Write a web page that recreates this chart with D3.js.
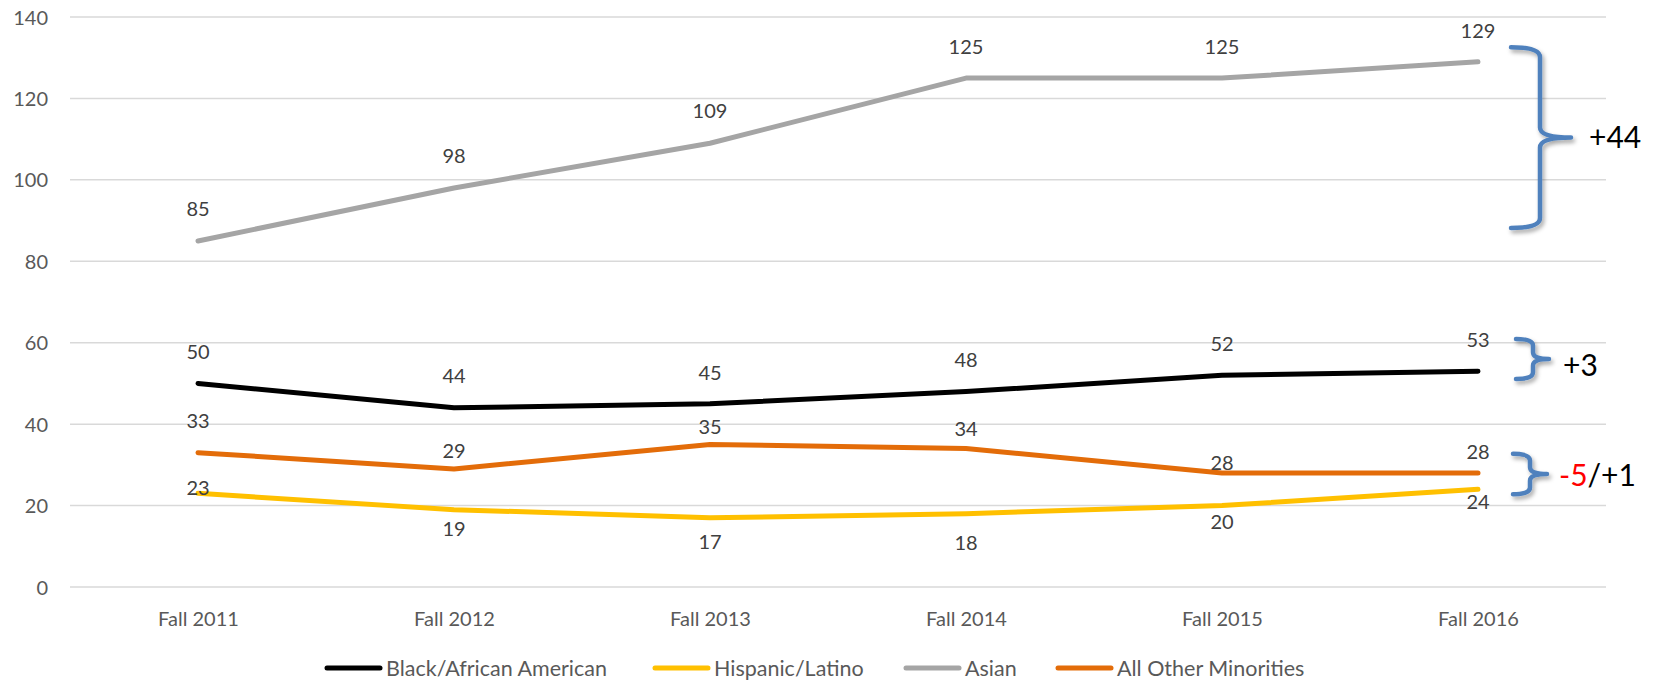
<!DOCTYPE html>
<html>
<head>
<meta charset="utf-8">
<script src="https://cdn.jsdelivr.net/npm/d3@7"></script>
<style>
  html, body { margin: 0; padding: 0; background: #fff; }
  svg { display: block; font-family: Lato, "Open Sans", sans-serif; }
</style>
</head>
<body>
<svg id="chart" width="1659" height="682"></svg>
<script>
// ---- data ----
const categories = ["Fall 2011", "Fall 2012", "Fall 2013", "Fall 2014", "Fall 2015", "Fall 2016"];
const black    = [50, 44, 45, 48, 52, 53];
const hispanic = [23, 19, 17, 18, 20, 24];
const asian    = [85, 98, 109, 125, 125, 129];
const other    = [33, 29, 35, 34, 28, 28];
const seriesNames = ["Black/African American", "Hispanic/Latino", "Asian", "All Other Minorities"];
const yTicks = [0, 20, 40, 60, 80, 100, 120, 140];
const changeLabels = ["+44", "+3", "/+1"];

// ---- layout / style ----
const W = 1659, H = 682;
const plot = { left: 70, right: 1606, top: 17, bottom: 587 };
const colors = ["#000000", "#FFC000", "#A5A5A5", "#E36C09"];
const seriesData = [black, hispanic, asian, other];
// label vertical offsets (px, relative to point) as placed in the original
const labelDy = [
  [-31, -32, -31, -32, -31, -31],
  [-5, 19, 24, 29, 16, 13],
  [-32, -32, -32, -31, -31, -31],
  [-32, -18, -18, -20, -10, -21]
];

const svg = d3.select("#chart");
const x = d3.scalePoint().domain(categories).range([plot.left, plot.right]).padding(0.5);
const y = d3.scaleLinear().domain([0, 140]).range([plot.bottom, plot.top]);

// gridlines
svg.append("g").selectAll("line").data(yTicks).join("line")
  .attr("x1", plot.left).attr("x2", plot.right)
  .attr("y1", d => y(d)).attr("y2", d => y(d))
  .attr("stroke", "#d9d9d9").attr("stroke-width", 1.5);

// y axis labels
const yAxis = d3.axisLeft(y).tickValues(yTicks).tickSize(0).tickPadding(0);
const yg = svg.append("g").attr("transform", `translate(${plot.left - 22},0)`).call(yAxis);
yg.select(".domain").remove();
yg.selectAll("text").attr("font-size", 20).attr("fill", "#595959")
  .attr("font-family", "Lato, sans-serif").attr("dy", "0.35em");

// x axis labels
const xAxis = d3.axisBottom(x).tickSize(0).tickPadding(0);
const xg = svg.append("g").attr("transform", `translate(0,${plot.bottom + 32})`).call(xAxis);
xg.select(".domain").remove();
xg.selectAll("text").attr("font-size", 20).attr("fill", "#595959")
  .attr("font-family", "Lato, sans-serif").attr("dy", "0.35em");

// lines
const line = d3.line().x((d, i) => x(categories[i])).y(d => y(d));
const drawOrder = [2, 0, 3, 1];
drawOrder.forEach(s => {
  svg.append("path").datum(seriesData[s])
    .attr("d", line).attr("fill", "none")
    .attr("stroke", colors[s]).attr("stroke-width", 5)
    .attr("stroke-linecap", "round").attr("stroke-linejoin", "round");
});

// data labels
seriesData.forEach((vals, s) => {
  svg.append("g").selectAll("text").data(vals).join("text")
    .attr("x", (d, i) => x(categories[i]))
    .attr("y", (d, i) => y(d) + labelDy[s][i])
    .attr("dy", "0.35em")
    .attr("text-anchor", "middle")
    .attr("font-size", 20).attr("fill", "#404040")
    .text(d => d);
});

// braces
const defs = svg.append("defs");
const f = defs.append("filter").attr("id", "shadow").attr("x", "-50%").attr("y", "-50%").attr("width", "200%").attr("height", "200%");
f.append("feDropShadow").attr("dx", 2).attr("dy", 3).attr("stdDeviation", 2)
  .attr("flood-color", "#000").attr("flood-opacity", 0.35);

const xLast = x(categories[categories.length - 1]);
function brace(x0, xv, xt, yTopV, yBotV) {
  const y0 = y(yTopV), y1 = y(yBotV), ym = (y0 + y1) / 2;
  const r = Math.min(10, (y1 - y0) / 6);
  const p = d3.path();
  p.moveTo(x0, y0);
  p.quadraticCurveTo(xv, y0, xv, y0 + r);
  p.lineTo(xv, ym - r);
  p.quadraticCurveTo(xv, ym, xt, ym);
  p.moveTo(xt, ym);
  p.quadraticCurveTo(xv, ym, xv, ym + r);
  p.lineTo(xv, y1 - r);
  p.quadraticCurveTo(xv, y1, x0, y1);
  svg.append("path").attr("d", p.toString())
    .attr("fill", "none").attr("stroke", "#4F81BD").attr("stroke-width", 4.5)
    .attr("stroke-linecap", "round").attr("filter", "url(#shadow)");
}
brace(xLast + 33, xLast + 62, xLast + 93, 132.6, 88.2);
brace(xLast + 38, xLast + 55, xLast + 71, 60.9, 51.1);
brace(xLast + 35, xLast + 52, xLast + 69, 32.7, 22.8);

svg.append("text").attr("x", xLast + 111).attr("y", y(110.5)).attr("dy", "0.35em")
  .attr("font-size", 30).attr("fill", "#000").text(changeLabels[0]);
svg.append("text").attr("x", xLast + 85).attr("y", y(54.5)).attr("dy", "0.35em")
  .attr("font-size", 30).attr("fill", "#000").text(changeLabels[1]);
const t3 = svg.append("text").attr("x", xLast + 81).attr("y", y(27.5)).attr("dy", "0.35em")
  .attr("font-size", 30).attr("fill", "#000");
t3.append("tspan").attr("fill", "#FF0000").text("-5");
t3.append("tspan").text(changeLabels[2]);

// legend
const legendX = [327, 655, 906, 1058];
const legY = 668;
const lg = svg.append("g");
seriesNames.forEach((name, s) => {
  lg.append("line").attr("x1", legendX[s]).attr("x2", legendX[s] + 53)
    .attr("y1", legY).attr("y2", legY)
    .attr("stroke", colors[s]).attr("stroke-width", 5).attr("stroke-linecap", "round");
  lg.append("text").attr("x", legendX[s] + 59).attr("y", legY).attr("dy", "0.35em")
    .attr("font-size", 21.5).attr("fill", "#595959").text(name);
});
</script>
</body>
</html>
